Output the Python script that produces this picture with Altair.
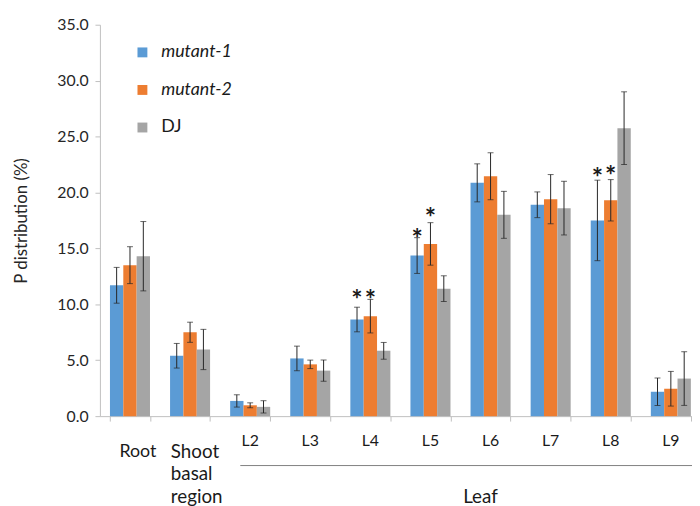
import altair as alt
import pandas as pd

categories = ["Root", "Shoot basal region", "L2", "L3", "L4", "L5", "L6", "L7", "L8", "L9"]
series = ["mutant-1", "mutant-2", "DJ"]
colors = ["#5B9BD5", "#ED7D31", "#A5A5A5"]

m1 = [11.7, 5.4, 1.36, 5.16, 8.64, 14.36, 20.86, 18.9, 17.5, 2.18]
m1_err = [1.6, 1.1, 0.55, 1.1, 1.1, 1.6, 1.7, 1.15, 3.6, 1.23]
m2 = [13.5, 7.5, 0.97, 4.63, 8.94, 15.4, 21.45, 19.4, 19.3, 2.45]
m2_err = [1.65, 0.9, 0.22, 0.38, 1.5, 1.9, 2.1, 2.2, 1.85, 1.55]
dj = [14.3, 5.96, 0.83, 4.07, 5.84, 11.4, 18.0, 18.6, 25.75, 3.36]
dj_err = [3.1, 1.8, 0.55, 0.95, 0.75, 1.15, 2.1, 2.4, 3.25, 2.4]

star_cat = ["L4", "L4", "L5", "L5", "L8", "L8"]
star_series = ["mutant-1", "mutant-2", "mutant-1", "mutant-2", "mutant-1", "mutant-2"]
star_y = [10.9, 10.9, 16.4, 18.2, 21.8, 22.0]

y_ticks = [0, 5, 10, 15, 20, 25, 30, 35]
leaf_labels = ["L2", "L3", "L4", "L5", "L6", "L7", "L8", "L9"]

rows = []
for s, vals, errs in zip(series, [m1, m2, dj], [m1_err, m2_err, dj_err]):
    for c, v, e in zip(categories, vals, errs):
        rows.append({"category": c, "series": s, "value": v, "lo": v - e, "hi": v + e})
df = pd.DataFrame(rows)
df_star = pd.DataFrame({"category": star_cat, "series": star_series, "y": star_y})

FONT = "Lato"
AX = "#bfbfbf"
TXT = "#1a1a1a"

xscale = alt.Scale(domain=categories, range=[0, 608], paddingInner=0.334, paddingOuter=0.167)
x = alt.X("category:N", sort=categories, scale=xscale,
          axis=alt.Axis(labels=False, title=None, ticks=True, tickSize=5, tickBand="extent",
                        domainColor=AX, tickColor=AX, grid=False))
xo = alt.XOffset("series:N", sort=series,
                 scale=alt.Scale(domain=series, paddingInner=0, paddingOuter=0))
yscale = alt.Scale(domain=[0, 35], nice=False)

bars = alt.Chart(df).mark_bar().encode(
    x=x,
    xOffset=xo,
    y=alt.Y("value:Q", scale=yscale,
            axis=alt.Axis(values=y_ticks, format=".1f", title="P distribution (%)", grid=False,
                          domainColor=AX, tickColor=AX, tickSize=5, labelFontSize=16,
                          labelFont=FONT, labelColor="#262626", labelPadding=7,
                          titleFont=FONT, titleFontSize=17, titleFontWeight="normal",
                          titleColor="#262626", titlePadding=27)),
    color=alt.Color("series:N", scale=alt.Scale(domain=series, range=colors),
                    legend=alt.Legend(title=None, orient="none", legendX=34, legendY=19,
                                      symbolType="square", symbolSize=100, symbolStrokeWidth=0,
                                      labelFont=FONT, labelFontSize=18, labelColor=TXT,
                                      labelOffset=10, rowPadding=20, padding=0,
                                      labelFontStyle=alt.ExprRef("datum.label == 'DJ' ? 'normal' : 'italic'"))),
)

err = alt.Chart(df).mark_rule(color="#262626", strokeWidth=1).encode(
    x=alt.X("category:N", sort=categories), xOffset=xo,
    y=alt.Y("lo:Q", scale=yscale), y2="hi:Q")
cap_hi = alt.Chart(df).mark_tick(color="#262626", thickness=1, size=6).encode(
    x=alt.X("category:N", sort=categories), xOffset=xo, y=alt.Y("hi:Q", scale=yscale))
cap_lo = alt.Chart(df).mark_tick(color="#262626", thickness=1, size=6).encode(
    x=alt.X("category:N", sort=categories), xOffset=xo, y=alt.Y("lo:Q", scale=yscale))

stars = alt.Chart(df_star).mark_text(text="*", fontSize=27, font=FONT, fontWeight="bold",
                                     color=TXT, baseline="middle", dy=7).encode(
    x=alt.X("category:N", sort=categories), xOffset=xo, y=alt.Y("y:Q", scale=yscale))

df_leaf = pd.DataFrame({"category": leaf_labels})
leaf_lbl = alt.Chart(df_leaf).mark_text(fontSize=16, font=FONT, color=TXT,
                                        baseline="middle").encode(
    x=alt.X("category:N", sort=categories), y=alt.value(421), text="category:N")

df_root = pd.DataFrame({"category": ["Root"], "label": ["Root"]})
root_lbl = alt.Chart(df_root).mark_text(fontSize=18, font=FONT, color=TXT,
                                        baseline="middle", dx=8).encode(
    x=alt.X("category:N", sort=categories), y=alt.value(432), text="label:N")

df_shoot = pd.DataFrame({"category": ["Shoot basal region"], "label": ["Shoot basal region"]})
shoot_lbl = alt.Chart(df_shoot).mark_text(fontSize=19, font=FONT, color=TXT,
                                          baseline="middle", align="left", dx=-19.5,
                                          lineBreak=" ", lineHeight=23).encode(
    x=alt.X("category:N", sort=categories), y=alt.value(432), text="label:N")

leaf_rule = alt.Chart(pd.DataFrame({"a": [0]})).mark_rule(color="#808080", strokeWidth=1).encode(
    x=alt.value(142), x2=alt.value(620), y=alt.value(446))
leaf_word = alt.Chart(pd.DataFrame({"label": ["Leaf"]})).mark_text(
    fontSize=19, font=FONT, color=TXT, baseline="middle").encode(
    x=alt.value(385), y=alt.value(478), text="label:N")

chart = alt.layer(bars, err, cap_hi, cap_lo, stars, leaf_lbl, root_lbl, shoot_lbl,
                  leaf_rule, leaf_word).properties(
    width=599, height=396,
    autosize=alt.AutoSizeParams(type="none"),
    padding={"left": 93, "top": 14, "right": 0, "bottom": 88},
).configure_view(stroke=None).configure_axis(labelFont=FONT)

chart.save("out.html", embed_options={"renderer": "svg", "actions": False})
